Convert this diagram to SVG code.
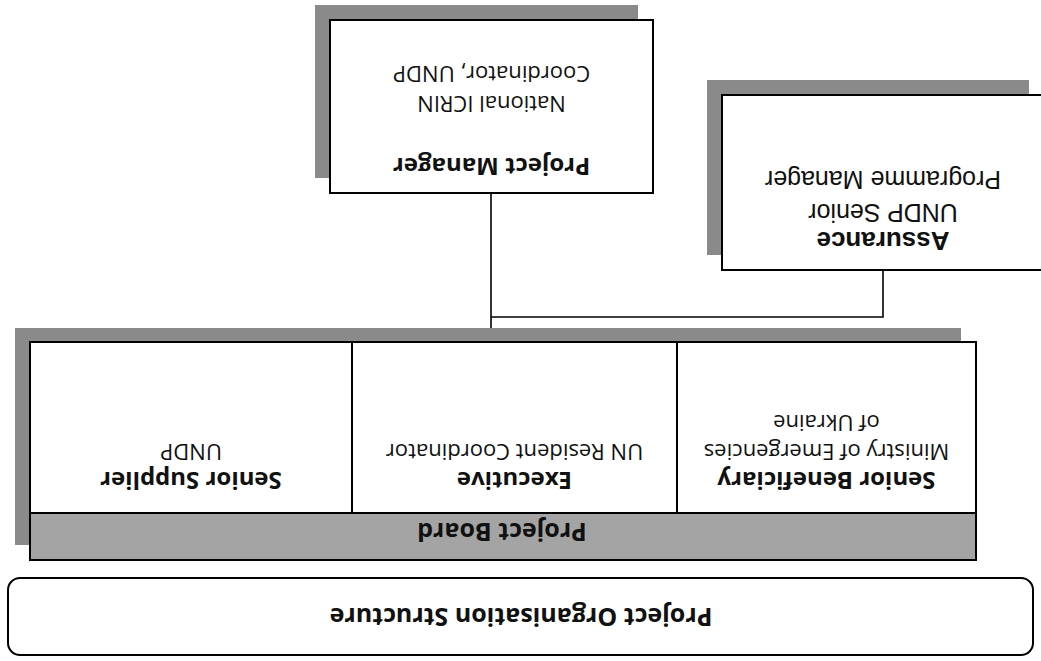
<svg xmlns="http://www.w3.org/2000/svg" width="1041" height="661" viewBox="0 0 1041 661">
<style>
.box{fill:#ffffff;stroke:#000;stroke-width:2}
.shadow{fill:#8a8a8a}
.band{fill:#a4a4a4;stroke:#000;stroke-width:2}
.conn{fill:none;stroke:#000;stroke-width:1.6}
.t{font-family:"Open Sans","Noto Sans",sans-serif;font-size:22px;fill:#111;text-anchor:middle}
.b{font-weight:bold}
.cb{font-size:24px}
.big{font-size:25px}
.a{font-family:"Liberation Sans",Arial,sans-serif;font-size:25px;fill:#111;text-anchor:middle}
</style>
<rect width="1041" height="661" fill="#ffffff"/>
<g transform="rotate(180 520.5 330.5)">
  <g id="title">
    <rect x="8" y="6" width="1025" height="77" rx="12" class="box"/>
    <text x="520" y="53" class="t b big">Project Organisation Structure</text>
  </g>
  <g id="connectors">
    <path class="conn" d="M550,319 V468"/>
    <path class="conn" d="M550,344 H158 V391"/>
  </g>
  <g id="project-board">
    <rect x="80" y="116" width="946" height="217" class="shadow"/>
    <rect x="65" y="148" width="946" height="171" class="box"/>
    <rect x="65" y="101" width="946" height="47" class="band"/>
    <text x="539" y="138" class="t b big">Project Board</text>
  </g>
  <g id="senior-supplier">
    <rect x="689" y="148" width="322" height="171" class="box"/>
    <text x="850" y="189" class="t b cb">Senior Supplier</text>
    <text x="850" y="217" class="t">UNDP</text>
  </g>
  <g id="executive">
    <rect x="364" y="148" width="325" height="171" class="box"/>
    <text x="526.5" y="189" class="t b cb">Executive</text>
    <text x="526.5" y="217" class="t">UN Resident Coordinator</text>
  </g>
  <g id="senior-beneficiary">
    <rect x="65" y="148" width="299" height="171" class="box"/>
    <text x="214.5" y="189" class="t b cb">Senior Beneficiary</text>
    <text x="214.5" y="217" class="t">Ministry of Emergencies</text>
    <text x="214.5" y="246" class="t">of Ukraine</text>
  </g>
  <g id="project-manager">
    <rect x="403" y="483" width="323" height="173" class="shadow"/>
    <rect x="388" y="468" width="323" height="173" class="box"/>
    <text x="549.5" y="503" class="t b" style="font-size:24px">Project Manager</text>
    <text x="549.5" y="565" class="t">National ICRIN</text>
    <text x="549.5" y="595" class="t">Coordinator, UNDP</text>
  </g>
  <g id="assurance">
    <rect x="12" y="406" width="322" height="175" class="shadow"/>
    <rect x="-3" y="391" width="322" height="175" class="box"/>
    <text x="158" y="429" class="a b" style="font-size:26px">Assurance</text>
    <text x="158" y="457" class="a">UNDP Senior</text>
    <text x="158" y="490" class="a">Programme Manager</text>
  </g>
</g>
</svg>
